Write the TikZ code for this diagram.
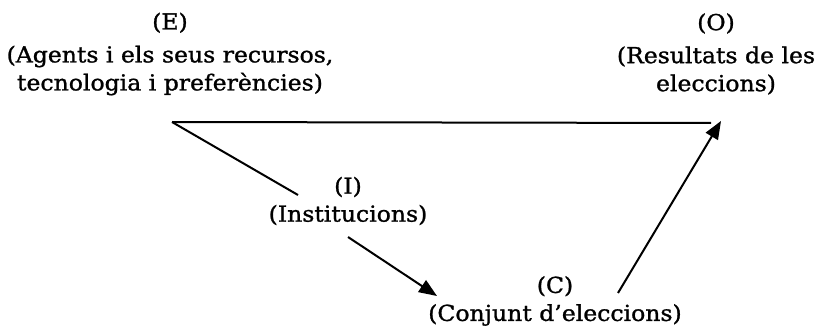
\documentclass[tikz,border=0pt]{standalone}
\usepackage{fontspec}
\setmainfont{DejaVu Serif}[FakeStretch=1.07,FakeBold=1.2]
\usetikzlibrary{arrows.meta}
\begin{document}
\begin{tikzpicture}[x=1pt,y=-1pt,
  lbl/.style={align=center,inner sep=0pt,font=\fontsize{22}{28}\selectfont},
  conn/.style={line width=2pt},
  arr/.style={conn,-{Triangle[length=18pt,width=14pt]}}]
\useasboundingbox (0,0) rectangle (817,326);
\node[lbl] (E) at (170,54) {(E)\\[5pt](Agents i els seus recursos,\\tecnologia i preferències)};
\node[lbl] (O) at (716,54) {(O)\\[5pt](Resultats de les\\eleccions)};
\node[lbl] (I) at (348,201) {(I)\\(Institucions)};
\node[lbl] (C) at (555,301) {(C)\\(Conjunt d'eleccions)};
\coordinate (Ep) at (172,122);
\coordinate (Op) at (721,121);
\coordinate (Oend) at (711,123);
\coordinate (Iin) at (298,195);
\coordinate (Iout) at (348,237);
\coordinate (Cin) at (437,296);
\coordinate (Cout) at (618,293);
\draw[conn] (Ep) -- (Oend);
\draw[conn] (Ep) -- (Iin);
\draw[arr] (Iout) -- (Cin);
\draw[arr] (Cout) -- (Op);
\end{tikzpicture}
\end{document}
